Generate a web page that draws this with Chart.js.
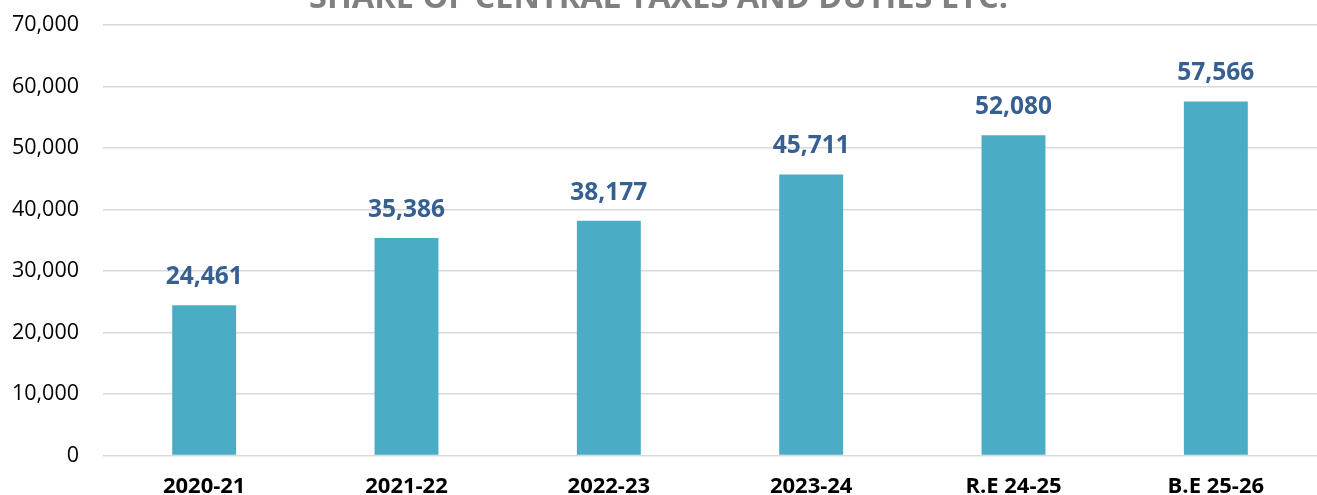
<!DOCTYPE html>
<html>
<head>
<meta charset="utf-8">
<script src="https://cdn.jsdelivr.net/npm/chart.js@4"></script>
<style>
    html, body { margin: 0; padding: 0; background: #fff; }
    #wrap { position: relative; width: 1317px; height: 495px; overflow: hidden; }
    #box { position: absolute; left: 0; top: -21px; width: 1317px; height: 539px; }
</style>
</head>
<body>
<div id="wrap"><div id="box"><canvas id="taxChart"></canvas></div></div>
<script>
// 数据
const categories = ['2020-21', '2021-22', '2022-23', '2023-24', 'R.E 24-25', 'B.E 25-26'];
const shareValues = [24461, 35386, 38177, 45711, 52080, 57566];
const yTicks = [0, 10000, 20000, 30000, 40000, 50000, 60000, 70000];

const fmt = v => v.toLocaleString('en-US');

// 柱顶数值标签
const valueLabels = {
    id: 'valueLabels',
    afterDatasetsDraw(chart) {
        const ctx = chart.ctx;
        const meta = chart.getDatasetMeta(0);
        ctx.save();
        ctx.font = 'bold 24.5px "Open Sans"';
        ctx.fillStyle = '#376092';
        ctx.textAlign = 'center';
        ctx.textBaseline = 'alphabetic';
        meta.data.forEach((bar, i) => {
            ctx.fillText(fmt(shareValues[i]), bar.x, bar.y - 21);
        });
        ctx.restore();
    }
};

document.addEventListener('DOMContentLoaded', () => {
    const ctx = document.getElementById('taxChart').getContext('2d');
    new Chart(ctx, {
        type: 'bar',
        data: {
            labels: categories,
            datasets: [{
                data: shareValues,
                backgroundColor: '#4BACC6',
                borderWidth: 0,
                barPercentage: 0.316,
                categoryPercentage: 1
            }]
        },
        options: {
            responsive: true,
            maintainAspectRatio: false,
            animation: false,
            layout: { padding: { left: 0, right: 0, top: 0, bottom: 0 } },
            plugins: {
                legend: { display: false },
                tooltip: { enabled: false },
                title: {
                    display: true,
                    text: 'SHARE OF CENTRAL TAXES AND DUTIES ETC.',
                    color: '#808080',
                    font: { family: '"Open Sans"', size: 32.5, weight: 'bold', lineHeight: 1.2 },
                    padding: { top: 0, bottom: 7 }
                }
            },
            scales: {
                x: {
                    grid: { display: false, drawTicks: false },
                    border: { display: false },
                    ticks: {
                        color: '#000',
                        padding: 18,
                        font: { family: '"Open Sans"', size: 22, weight: 'bold', lineHeight: 1.2 }
                    }
                },
                y: {
                    min: 0,
                    max: 70000,
                    afterFit(scale) { scale.width = 103; },
                    afterBuildTicks(scale) { scale.ticks = yTicks.map(v => ({ value: v })); },
                    grid: { color: '#d9d9d9', lineWidth: 1.5, drawTicks: false },
                    border: { display: false },
                    ticks: {
                        color: '#000',
                        padding: 24,
                        font: { family: '"Open Sans"', size: 21.5 },
                        callback: v => fmt(v)
                    }
                }
            }
        },
        plugins: [valueLabels]
    });
});
</script>
</body>
</html>
